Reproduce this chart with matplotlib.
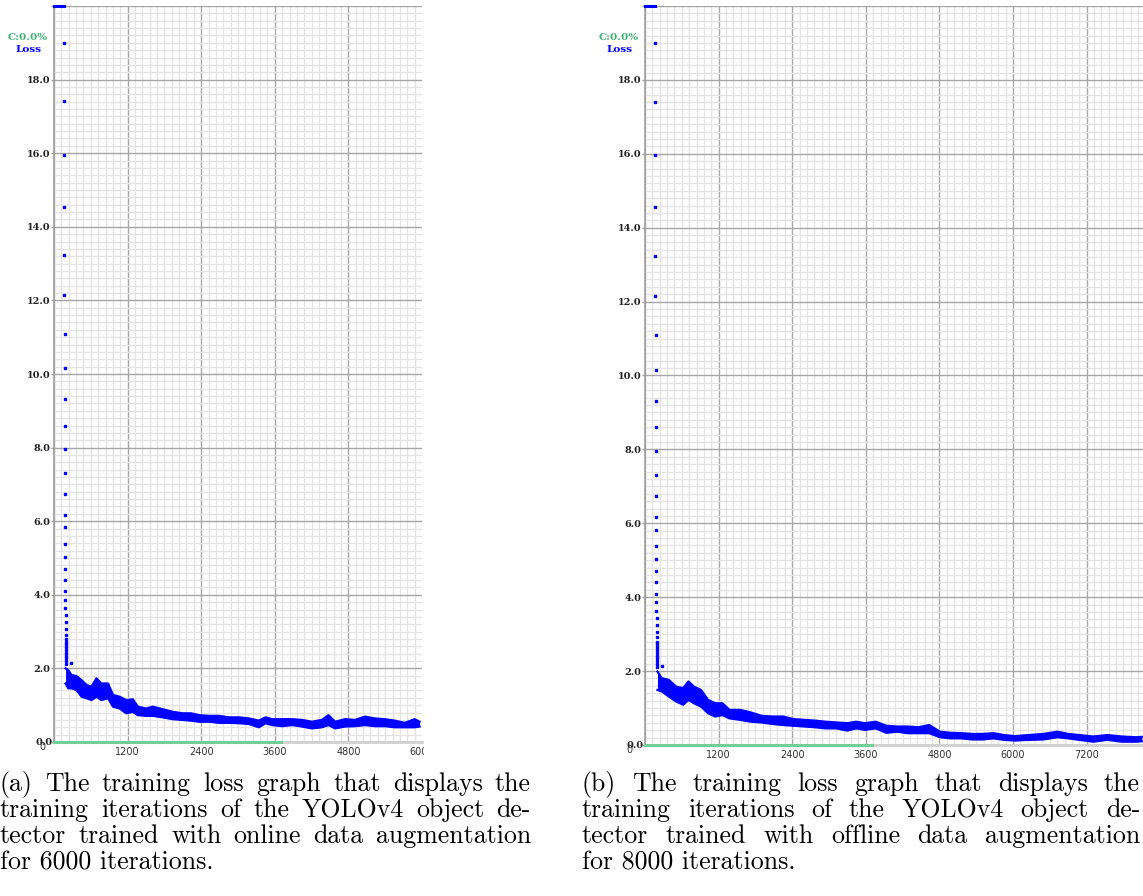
import matplotlib
matplotlib.use('Agg')
import matplotlib.pyplot as plt
import matplotlib.transforms as mtransforms
import numpy as np

# ---- data ----
# first iterations (loss above 20 is clipped to the top of the chart)
top_iters = [0, 40, 80, 120, 165]
top_loss = [20.0, 20.0, 20.0, 20.0, 20.0]

head_iters = [166, 167, 168, 169, 170, 171, 172, 173, 174, 175, 176, 177,
              178, 179, 180, 181, 182, 183, 184, 185, 186, 187, 188, 189,
              190, 191, 192, 193, 194, 195, 196, 197, 198, 199, 200, 201, 270]
head_loss = [18.99, 17.41, 15.96, 14.55, 13.24, 12.16, 11.10, 10.15, 9.31,
             8.60, 7.97, 7.31, 6.75, 6.18, 5.83, 5.38, 5.03, 4.70, 4.40,
             4.09, 3.87, 3.63, 3.44, 3.25, 3.07, 2.91, 2.80, 2.72, 2.65,
             2.58, 2.50, 2.42, 2.35, 2.28, 2.20, 2.12, 2.14]

# (a) online augmentation, 6000 iterations: band of the loss points
iters_a = [189, 232, 286, 368, 449, 530, 611, 692, 773, 881, 962, 1070,
           1178, 1286, 1367, 1503, 1611, 1773, 1935, 2097, 2232, 2367, 2530,
           2692, 2854, 3016, 3178, 3340, 3448, 3556, 3719, 3881, 4043, 4205,
           4367, 4475, 4583, 4746, 4908, 5070, 5232, 5394, 5556, 5719, 5881,
           5960]
upper_a = [2.00, 1.95, 1.82, 1.79, 1.68, 1.55, 1.50, 1.73, 1.59, 1.59, 1.28,
           1.23, 1.14, 1.16, 0.96, 0.91, 0.96, 0.89, 0.82, 0.78, 0.78, 0.73,
           0.71, 0.71, 0.67, 0.67, 0.64, 0.58, 0.67, 0.62, 0.62, 0.62, 0.60,
           0.55, 0.60, 0.73, 0.55, 0.62, 0.60, 0.69, 0.64, 0.62, 0.58, 0.52,
           0.62, 0.55]
lower_a = [1.59, 1.46, 1.46, 1.41, 1.23, 1.19, 1.14, 1.23, 1.14, 1.19, 0.96,
           0.91, 0.78, 0.82, 0.73, 0.71, 0.71, 0.67, 0.62, 0.60, 0.58, 0.55,
           0.55, 0.52, 0.52, 0.51, 0.49, 0.40, 0.51, 0.46, 0.43, 0.46, 0.42,
           0.37, 0.40, 0.46, 0.37, 0.42, 0.43, 0.46, 0.43, 0.43, 0.40, 0.40,
           0.40, 0.42]

# (b) offline augmentation, 8000 iterations
iters_b = [203, 273, 390, 506, 622, 709, 797, 913, 1029, 1145, 1262, 1378,
           1552, 1727, 1901, 2076, 2250, 2424, 2599, 2773, 2948, 3122, 3297,
           3442, 3587, 3762, 3936, 4110, 4285, 4459, 4634, 4808, 4983, 5157,
           5331, 5506, 5680, 5855, 6029, 6262, 6494, 6727, 6901, 7076, 7308,
           7541, 7773, 8006, 8100]
upper_b = [1.99, 1.81, 1.76, 1.58, 1.54, 1.72, 1.58, 1.49, 1.22, 1.13, 1.13,
           0.95, 0.95, 0.88, 0.79, 0.77, 0.77, 0.70, 0.68, 0.66, 0.63, 0.61,
           0.59, 0.63, 0.59, 0.63, 0.52, 0.50, 0.50, 0.48, 0.54, 0.36, 0.33,
           0.32, 0.30, 0.30, 0.32, 0.27, 0.24, 0.27, 0.30, 0.36, 0.30, 0.27,
           0.23, 0.27, 0.23, 0.21, 0.22]
lower_b = [1.49, 1.45, 1.31, 1.18, 1.09, 1.22, 1.13, 1.04, 0.86, 0.77, 0.81,
           0.72, 0.68, 0.63, 0.61, 0.57, 0.54, 0.52, 0.50, 0.48, 0.45, 0.45,
           0.39, 0.45, 0.41, 0.45, 0.33, 0.36, 0.32, 0.32, 0.32, 0.21, 0.18,
           0.18, 0.15, 0.15, 0.18, 0.14, 0.12, 0.14, 0.15, 0.21, 0.18, 0.14,
           0.09, 0.14, 0.09, 0.09, 0.10]

map_end = 3700  # green C: line along the bottom

captions = {
    'a': ["(a) The training loss graph that displays the",
          "training iterations of the YOLOv4 object de-",
          "tector trained with online data augmentation",
          "for 6000 iterations."],
    'b': ["(b) The training loss graph that displays the",
          "training iterations of the YOLOv4 object de-",
          "tector trained with offline data augmentation",
          "for 8000 iterations."],
}

W, H = 1143, 896
fig = plt.figure(figsize=(W / 100, H / 100), dpi=100)
fig.patch.set_facecolor('white')

BLUE = '#0000ff'
GREEN = '#6fcf95'


def px_axes(l, t, r, b):
    return fig.add_axes([l / W, 1 - b / H, (r - l) / W, (b - t) / H])


def draw_chart(ax, xmax, iters, upper, lower, clip_right):
    ax.set_xlim(0, xmax)
    ax.set_ylim(0, 20)
    ax.set_xticks(np.arange(0, xmax, 1200))
    ax.set_xticks(np.arange(0, xmax, 120), minor=True)
    ax.set_yticks(np.arange(0, 20.1, 2))
    ax.set_yticks(np.arange(0, 20.01, 0.2), minor=True)
    ax.grid(which='minor', color='#e4e4e4', lw=1.0)
    ax.grid(which='major', color='#a6a6a6', lw=1.0)
    ax.set_axisbelow(True)
    for s in ['top', 'right', 'bottom']:
        ax.spines[s].set_visible(False)
    ax.spines['left'].set_color('#a0a0a0')
    ax.spines['left'].set_linewidth(1.2)

    ylabels = ['%.1f' % v for v in np.arange(0, 20.1, 2)]
    ylabels[0] = ''
    ylabels[-1] = ''
    ax.set_yticklabels(ylabels, fontfamily='DejaVu Serif', fontweight='bold',
                       fontsize=7, color='#222222')
    ax.tick_params(axis='y', which='major', length=2, width=1,
                   color='#a0a0a0', pad=0.5)
    ax.tick_params(axis='y', which='minor', length=0)
    ax.tick_params(axis='x', which='both', length=0, labelbottom=False)

    # bottom border: light grey, green C: segment
    ax.plot([0, xmax], [0, 0], color='#d0d0d0', lw=2, clip_on=False, zorder=3)
    ax.plot([0, map_end], [0, 0], color=GREEN, lw=2.2, clip_on=False, zorder=4)

    # loss points
    ax.plot(top_iters, top_loss, color=BLUE, lw=2.2, clip_on=False, zorder=5)
    ax.plot(head_iters, head_loss, ls='none', marker='s', ms=1.6,
            mec=BLUE, mfc=BLUE, zorder=5)
    ax.fill_between(iters, lower, upper, color=BLUE, lw=0, zorder=5)
    ax.plot(iters, upper, color=BLUE, lw=1.6, zorder=5)
    ax.plot(iters, lower, color=BLUE, lw=1.6, zorder=5)

    # iteration labels under the axis (the chart image is cut at clip_right)
    trans = mtransforms.blended_transform_factory(ax.transData, ax.transAxes)
    clip = mtransforms.Bbox.from_extents(0, 0, clip_right, H)
    for v in np.arange(1200, xmax + 1, 1200):
        t = ax.text(v, -0.014, '%d' % v, transform=trans, ha='center',
                    va='center', fontsize=7, color='#333333',
                    fontfamily='DejaVu Sans')
        t.set_clip_on(True)
        t.set_clip_box(clip)
    ax.text(-0.032, -0.007, '0', transform=ax.transAxes, ha='center',
            va='center', fontsize=7, color='#333333')
    ax.text(-0.003, 0.0, '0.0', transform=ax.transAxes, ha='right',
            va='center', fontsize=7, color='#222222',
            fontfamily='DejaVu Serif', fontweight='bold')


ax_a = px_axes(54, 6, 422, 742)
draw_chart(ax_a, 6000, iters_a, upper_a, lower_a, 424)
ax_b = px_axes(645, 6, 1143, 745)
draw_chart(ax_b, 8119, iters_b, upper_b, lower_b, W)

# legend texts at the top left of each chart
for x0 in [28, 619]:
    fig.text(x0 / W, 1 - 38 / H, 'C:0.0%', color='#3cb371', ha='center',
             va='center', fontsize=7.5, fontweight='bold',
             fontfamily='DejaVu Serif')
    fig.text(x0 / W, 1 - 49 / H, 'Loss', color=BLUE, ha='center',
             va='center', fontsize=7.5, fontweight='bold',
             fontfamily='DejaVu Serif')

# captions, justified like the LaTeX subcaptions
renderer = fig.canvas.get_renderer()
cap_font = dict(fontsize=18.6, fontfamily='cmr10', va='baseline', ha='left')
for key, x0, width in [('a', 0, 531), ('b', 582, 558)]:
    lines = captions[key]
    for i, line in enumerate(lines):
        y = 1 - (791 + 26 * i) / H
        if i == len(lines) - 1:
            fig.text(x0 / W, y, line, **cap_font)
            continue
        words = line.split(' ')
        texts = [fig.text(0, y, w, **cap_font) for w in words]
        widths = [t.get_window_extent(renderer).width for t in texts]
        gap = (width - sum(widths)) / (len(words) - 1)
        x = x0
        for t, w in zip(texts, widths):
            t.set_x(x / W)
            x += w + gap

fig.savefig('out.png', dpi=100)
